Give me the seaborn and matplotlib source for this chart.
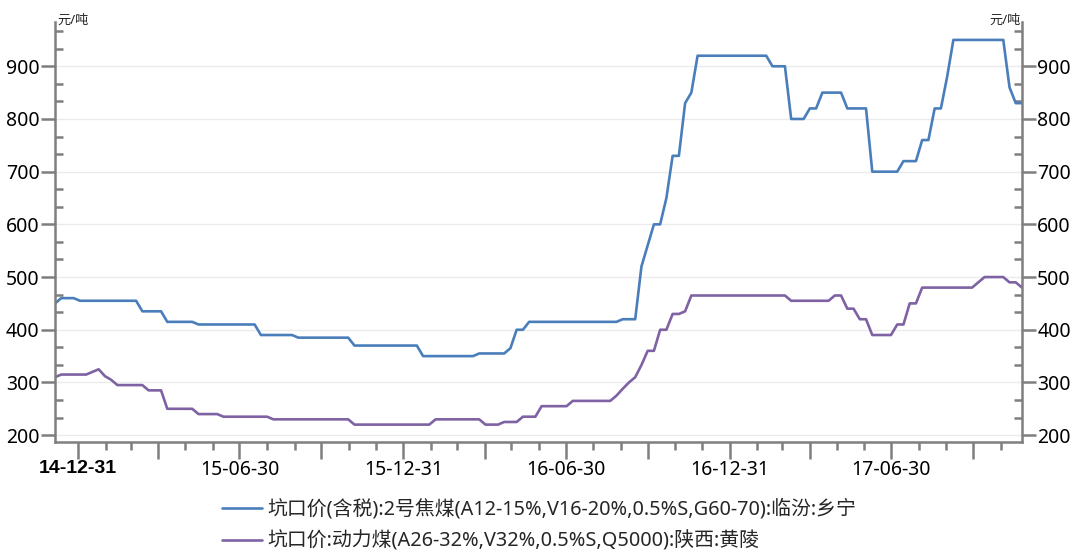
import numpy as np
import pandas as pd
import matplotlib
matplotlib.use('Agg')
import matplotlib.pyplot as plt
import matplotlib.dates as mdates
from matplotlib.ticker import MultipleLocator, FixedLocator
import seaborn as sns

# ---------------- data (weekly observations) ----------------
start_date = '2014-12-05'

coking_coal = [
    450, 460, 460, 460, 455, 455, 455, 455, 455, 455,
    455, 455, 455, 455, 435, 435, 435, 435, 415, 415,
    415, 415, 415, 410, 410, 410, 410, 410, 410, 410,
    410, 410, 410, 390, 390, 390, 390, 390, 390, 385,
    385, 385, 385, 385, 385, 385, 385, 385, 370, 370,
    370, 370, 370, 370, 370, 370, 370, 370, 370, 350,
    350, 350, 350, 350, 350, 350, 350, 350, 355, 355,
    355, 355, 355, 365, 400, 400, 415, 415, 415, 415,
    415, 415, 415, 415, 415, 415, 415, 415, 415, 415,
    415, 420, 420, 420, 520, 560, 600, 600, 650, 730,
    730, 830, 850, 920, 920, 920, 920, 920, 920, 920,
    920, 920, 920, 920, 920, 900, 900, 900, 800, 800,
    800, 820, 820, 850, 850, 850, 850, 820, 820, 820,
    820, 700, 700, 700, 700, 700, 720, 720, 720, 760,
    760, 820, 820, 880, 950, 950, 950, 950, 950, 950,
    950, 950, 950, 860, 830, 830,
]

thermal_coal = [
    310, 315, 315, 315, 315, 315, 320, 325, 312, 305,
    295, 295, 295, 295, 295, 285, 285, 285, 250, 250,
    250, 250, 250, 240, 240, 240, 240, 235, 235, 235,
    235, 235, 235, 235, 235, 230, 230, 230, 230, 230,
    230, 230, 230, 230, 230, 230, 230, 230, 220, 220,
    220, 220, 220, 220, 220, 220, 220, 220, 220, 220,
    220, 230, 230, 230, 230, 230, 230, 230, 230, 220,
    220, 220, 225, 225, 225, 235, 235, 235, 255, 255,
    255, 255, 255, 265, 265, 265, 265, 265, 265, 265,
    275, 288, 300, 310, 333, 360, 360, 400, 400, 430,
    430, 435, 465, 465, 465, 465, 465, 465, 465, 465,
    465, 465, 465, 465, 465, 465, 465, 465, 455, 455,
    455, 455, 455, 455, 455, 465, 465, 440, 440, 420,
    420, 390, 390, 390, 390, 410, 410, 450, 450, 480,
    480, 480, 480, 480, 480, 480, 480, 480, 490, 500,
    500, 500, 500, 490, 490, 480,
]

series_names = [
    '坑口价(含税):2号焦煤(A12-15%,V16-20%,0.5%S,G60-70):临汾:乡宁',
    '坑口价:动力煤(A26-32%,V32%,0.5%S,Q5000):陕西:黄陵',
]
unit_label = '元/吨'
y_major = [200, 300, 400, 500, 600, 700, 800, 900]

# ---------------- styling ----------------
sns.set_theme(style='white')
plt.rcParams['font.family'] = ['Noto Sans', 'Noto Sans CJK SC', 'DejaVu Sans']
plt.rcParams['axes.unicode_minus'] = False

blue = '#4A7EBB'
purple = '#7F62A3'
axis_gray = '#7f7f7f'

dates = pd.date_range(start_date, periods=len(coking_coal), freq='7D')
df = pd.DataFrame({
    'date': list(dates) + list(dates),
    'value': coking_coal + thermal_coal,
    'series': [series_names[0]] * len(coking_coal) + [series_names[1]] * len(thermal_coal),
})

fig = plt.figure(figsize=(10.75, 5.52), dpi=100)
ax = fig.add_axes([55 / 1075, 1 - 442 / 552, (1022 - 55) / 1075, (442 - 22) / 552])

sns.lineplot(data=df, x='date', y='value', hue='series', hue_order=series_names,
             palette=[blue, purple], linewidth=1.9, ax=ax, legend=False)

ax.set_xlim(dates[0], dates[-1])
ax.set_ylim(187, 984)
ax.set_xlabel('')
ax.set_ylabel('')

# y axis ticks
ax.yaxis.set_major_locator(FixedLocator(y_major))
ax.yaxis.set_minor_locator(MultipleLocator(100 / 3))
ax.tick_params(axis='y', which='both', left=True, right=True,
               labelleft=True, labelright=True, colors=axis_gray,
               labelcolor='black', labelsize=14)
ax.tick_params(axis='y', which='major', direction='out', length=10, width=1.8, pad=1)
ax.tick_params(axis='y', which='minor', direction='in', length=6, width=1.8)

# x axis ticks
quarter_ends = pd.date_range('2014-12-31', dates[-1], freq='QE')
month_ends = pd.date_range('2014-12-31', dates[-1], freq='ME')
ax.xaxis.set_minor_locator(FixedLocator(mdates.date2num(month_ends)))
xlabels = [d.strftime('%y-%m-%d') if d.month in (6, 12) else '' for d in quarter_ends]
ax.set_xticks(mdates.date2num(quarter_ends), labels=xlabels)
ax.tick_params(axis='x', which='both', bottom=True, colors=axis_gray,
               labelcolor='black', labelsize=14, direction='out', width=1.8)
ax.tick_params(axis='x', which='major', length=12, pad=1)
ax.tick_params(axis='x', which='minor', length=6)
first_label = ax.get_xticklabels()[0]
first_label.set_fontfamily(['Liberation Sans', 'DejaVu Sans'])
first_label.set_fontweight('bold')

# grid & spines
ax.yaxis.grid(True, color='#ebebeb', linewidth=1)
ax.xaxis.grid(False)
ax.spines['top'].set_visible(False)
for side in ('left', 'right', 'bottom'):
    ax.spines[side].set_color(axis_gray)
    ax.spines[side].set_linewidth(1.8)

# units
fig.text(57 / 1075, 1 - 20 / 552, unit_label, fontsize=9.5, ha='left', va='center')
fig.text(1021 / 1075, 1 - 20 / 552, unit_label, fontsize=9.5, ha='right', va='center')

# legend
handles = ax.get_lines()[:2]
fig.legend(handles, series_names, loc='upper left',
           bbox_to_anchor=(222 / 1075, 1 - 499 / 552), frameon=False,
           fontsize=14.3, handlelength=2.0, handletextpad=0.3,
           labelspacing=0.6, borderaxespad=0, borderpad=0)

fig.savefig('out.png', dpi=100)
